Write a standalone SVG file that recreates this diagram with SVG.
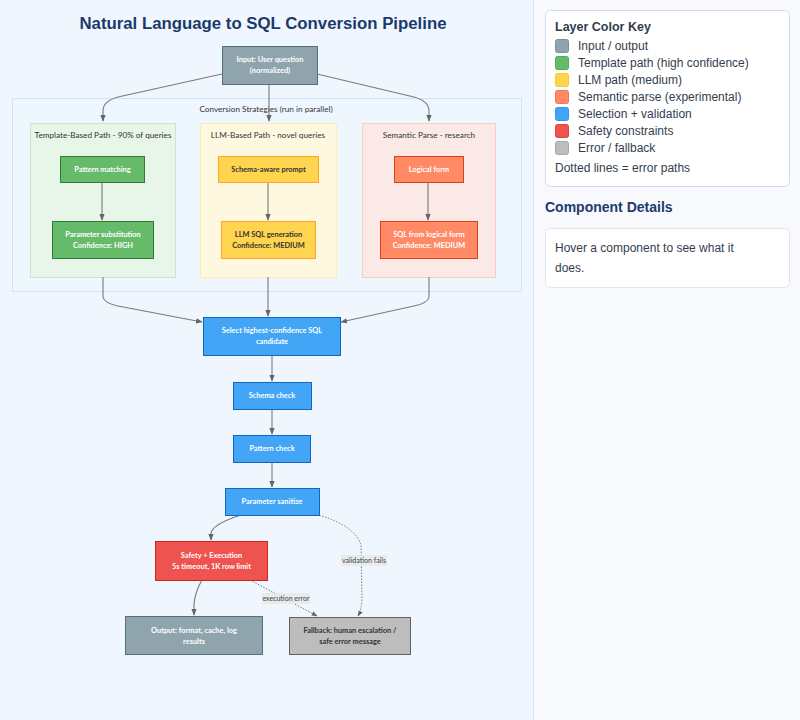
<svg xmlns="http://www.w3.org/2000/svg" width="800" height="720" viewBox="0 0 800 720">
<defs>
<style>
.nt{font-family:Lato,"Open Sans","Liberation Sans",sans-serif;font-size:7.4px;font-weight:700;text-anchor:middle}
.w{fill:#ffffff}
.d{fill:#333333}
.cl{font-family:Lato,"Open Sans","Liberation Sans",sans-serif;font-size:8.2px;fill:#333333;text-anchor:middle}
.e{fill:none;stroke:#7a7a7a;stroke-width:1.1}
.dot{fill:none;stroke:#7a7a7a;stroke-width:1;stroke-dasharray:1.5 1.5}
.lbl{font-family:Lato,"Open Sans","Liberation Sans",sans-serif;font-size:7px;fill:#444444;text-anchor:middle}
.lbg{fill:#e6e8e8;opacity:0.85}
.lg{font-family:"Liberation Sans",Arial,sans-serif;font-size:12px;fill:#333d4d}
.sw{stroke-width:1;rx:2}
</style>
<marker id="ah" viewBox="0 0 10 10" refX="9" refY="5" markerWidth="6" markerHeight="6" orient="auto-start-reverse">
<path d="M0,1 L10,5 L0,9 z" fill="#666666"/>
</marker>
</defs>
<rect x="0" y="0" width="800" height="720" fill="#eff6fd"/>
<rect x="533" y="0" width="267" height="720" fill="#f7f9fc"/>
<line x1="533.5" y1="0" x2="533.5" y2="720" stroke="#dde3ec" stroke-width="1"/>
<text x="263" y="29" font-family="Liberation Sans,Arial,sans-serif" font-size="16.8" font-weight="700" fill="#1b3a6b" text-anchor="middle">Natural Language to SQL Conversion Pipeline</text>

<g id="clusters">
<rect x="12.5" y="98.5" width="509" height="193" fill="#eef6fe" stroke="#cfe4f8" stroke-width="1"/>
<text class="cl" x="266" y="112">Conversion Strategies (run in parallel)</text>
<g id="cluster-template">
<rect x="30.5" y="123.5" width="145" height="154" fill="#e8f5e9" stroke="#c8e6c9" stroke-width="1"/>
<text class="cl" x="103" y="138">Template-Based Path - 90% of queries</text>
</g>
<g id="cluster-llm">
<rect x="200.5" y="123.5" width="136" height="154" fill="#fff8e1" stroke="#ffecb3" stroke-width="1"/>
<text class="cl" x="268" y="138">LLM-Based Path - novel queries</text>
</g>
<g id="cluster-semantic">
<rect x="362.5" y="123.5" width="133" height="154" fill="#fbe9e7" stroke="#ffccbc" stroke-width="1"/>
<text class="cl" x="429" y="138">Semantic Parse - research</text>
</g>
</g>

<g id="connectors">
<path class="e" d="M222,74 L118,97 Q103,101 103,111 L103,121" marker-end="url(#ah)"/>
<path class="e" d="M269,84 L269,121" marker-end="url(#ah)"/>
<path class="e" d="M317,74 L414,97 Q429,101 429,111 L429,121" marker-end="url(#ah)"/>
<path class="e" d="M102,182 L102,220" marker-end="url(#ah)"/>
<path class="e" d="M268,182 L268,220" marker-end="url(#ah)"/>
<path class="e" d="M428,182 L428,220" marker-end="url(#ah)"/>
<path class="e" d="M103,277 L103,297 Q104,303 118,306 L202,322" marker-end="url(#ah)"/>
<path class="e" d="M268,277 L268,316" marker-end="url(#ah)"/>
<path class="e" d="M429,277 L429,297 Q428,303 414,306 L341,322" marker-end="url(#ah)"/>
<path class="e" d="M272,355 L272,381" marker-end="url(#ah)"/>
<path class="e" d="M272,409 L272,434" marker-end="url(#ah)"/>
<path class="e" d="M272,462 L272,487" marker-end="url(#ah)"/>
<path class="e" d="M241,515 Q213,524 211,533 L211,540" marker-end="url(#ah)"/>
<path class="dot" d="M319,515 Q355,526 361,545 L362,600 Q361,611 358,616" marker-end="url(#ah)"/>
<path class="e" d="M202,580 Q195,592 194,604 L194,615" marker-end="url(#ah)"/>
<path class="dot" d="M250,580 L317,616" marker-end="url(#ah)"/>
<rect class="lbg" x="341" y="555" width="46" height="11"/>
<text class="lbl" x="364" y="563">validation fails</text>
<rect class="lbg" x="262" y="593" width="48" height="11"/>
<text class="lbl" x="286" y="601">execution error</text>
</g>

<g id="n-input">
<rect x="222.5" y="46.5" width="95" height="38" fill="#90a4ae" stroke="#546e7a" stroke-width="1"/>
<text class="nt w" x="270" y="62">Input: User question</text>
<text class="nt w" x="270" y="73">(normalized)</text>
</g>
<g id="n-pattern-matching">
<rect x="60.5" y="156.5" width="84" height="26" fill="#66bb6a" stroke="#2e7d32" stroke-width="1"/>
<text class="nt w" x="102.5" y="172">Pattern matching</text>
</g>
<g id="n-param-subst">
<rect x="52.5" y="221.5" width="101" height="37" fill="#66bb6a" stroke="#2e7d32" stroke-width="1"/>
<text class="nt w" x="103" y="237">Parameter substitution</text>
<text class="nt w" x="103" y="248">Confidence: HIGH</text>
</g>
<g id="n-schema-prompt">
<rect x="218.5" y="156.5" width="100" height="26" fill="#ffd54f" stroke="#f9a825" stroke-width="1"/>
<text class="nt d" x="268.5" y="172">Schema-aware prompt</text>
</g>
<g id="n-llm-gen">
<rect x="221.5" y="221.5" width="94" height="37" fill="#ffd54f" stroke="#f9a825" stroke-width="1"/>
<text class="nt d" x="268.5" y="237">LLM SQL generation</text>
<text class="nt d" x="268.5" y="248">Confidence: MEDIUM</text>
</g>
<g id="n-logical-form">
<rect x="394.5" y="156.5" width="69" height="26" fill="#ff8a65" stroke="#d84315" stroke-width="1"/>
<text class="nt w" x="429" y="172">Logical form</text>
</g>
<g id="n-sql-logical">
<rect x="380.5" y="221.5" width="97" height="37" fill="#ff8a65" stroke="#d84315" stroke-width="1"/>
<text class="nt w" x="429" y="237">SQL from logical form</text>
<text class="nt w" x="429" y="248">Confidence: MEDIUM</text>
</g>
<g id="n-select">
<rect x="203.5" y="317.5" width="137" height="38" fill="#42a5f5" stroke="#1565c0" stroke-width="1"/>
<text class="nt w" x="272" y="333">Select highest-confidence SQL</text>
<text class="nt w" x="272" y="344">candidate</text>
</g>
<g id="n-schema-check">
<rect x="233.5" y="382.5" width="78" height="27" fill="#42a5f5" stroke="#1565c0" stroke-width="1"/>
<text class="nt w" x="272" y="398">Schema check</text>
</g>
<g id="n-pattern-check">
<rect x="233.5" y="435.5" width="77" height="27" fill="#42a5f5" stroke="#1565c0" stroke-width="1"/>
<text class="nt w" x="272" y="451">Pattern check</text>
</g>
<g id="n-sanitize">
<rect x="225.5" y="488.5" width="94" height="27" fill="#42a5f5" stroke="#1565c0" stroke-width="1"/>
<text class="nt w" x="272" y="504">Parameter sanitize</text>
</g>
<g id="n-safety">
<rect x="155.5" y="541.5" width="112" height="39" fill="#ef5350" stroke="#c62828" stroke-width="1"/>
<text class="nt w" x="211.5" y="558">Safety + Execution</text>
<text class="nt w" x="211.5" y="569">5s timeout, 1K row limit</text>
</g>
<g id="n-output">
<rect x="125.5" y="616.5" width="137" height="38" fill="#90a4ae" stroke="#546e7a" stroke-width="1"/>
<text class="nt w" x="194" y="633">Output: format, cache, log</text>
<text class="nt w" x="194" y="644">results</text>
</g>
<g id="n-fallback">
<rect x="289.5" y="617.5" width="121" height="37" fill="#bdbdbd" stroke="#616161" stroke-width="1"/>
<text class="nt d" x="350" y="633">Fallback: human escalation /</text>
<text class="nt d" x="350" y="644">safe error message</text>
</g>

<g id="legend">
<rect x="545.5" y="10.5" width="244" height="176" rx="5" fill="#ffffff" stroke="#d3dbe6" stroke-width="1"/>
<text x="555" y="31" font-family="Liberation Sans,Arial,sans-serif" font-size="12.5" font-weight="700" fill="#333d4d">Layer Color Key</text>
<rect class="sw" x="555.5" y="39.5" width="13" height="13" fill="#90a4ae" stroke="#78909c"/>
<text class="lg" x="578" y="50">Input / output</text>
<rect class="sw" x="555.5" y="56.5" width="13" height="13" fill="#66bb6a" stroke="#4caf50"/>
<text class="lg" x="578" y="67">Template path (high confidence)</text>
<rect class="sw" x="555.5" y="73.5" width="13" height="13" fill="#ffd54f" stroke="#f9c62d"/>
<text class="lg" x="578" y="84">LLM path (medium)</text>
<rect class="sw" x="555.5" y="90.5" width="13" height="13" fill="#ff8a65" stroke="#f4774f"/>
<text class="lg" x="578" y="101">Semantic parse (experimental)</text>
<rect class="sw" x="555.5" y="107.5" width="13" height="13" fill="#42a5f5" stroke="#3096e8"/>
<text class="lg" x="578" y="118">Selection + validation</text>
<rect class="sw" x="555.5" y="124.5" width="13" height="13" fill="#ef5350" stroke="#e04441"/>
<text class="lg" x="578" y="135">Safety constraints</text>
<rect class="sw" x="555.5" y="141.5" width="13" height="13" fill="#bdbdbd" stroke="#a8a8a8"/>
<text class="lg" x="578" y="152">Error / fallback</text>
<text class="lg" x="555" y="172">Dotted lines = error paths</text>
</g>
<g id="details">
<text x="545" y="212" font-family="Liberation Sans,Arial,sans-serif" font-size="14" font-weight="700" fill="#1e3a6e">Component Details</text>
<rect x="545.5" y="228.5" width="244" height="59" rx="5" fill="#ffffff" stroke="#dfe5ee" stroke-width="1"/>
<text class="lg" x="555" y="252">Hover a component to see what it</text>
<text class="lg" x="555" y="272">does.</text>
</g>
</svg>
